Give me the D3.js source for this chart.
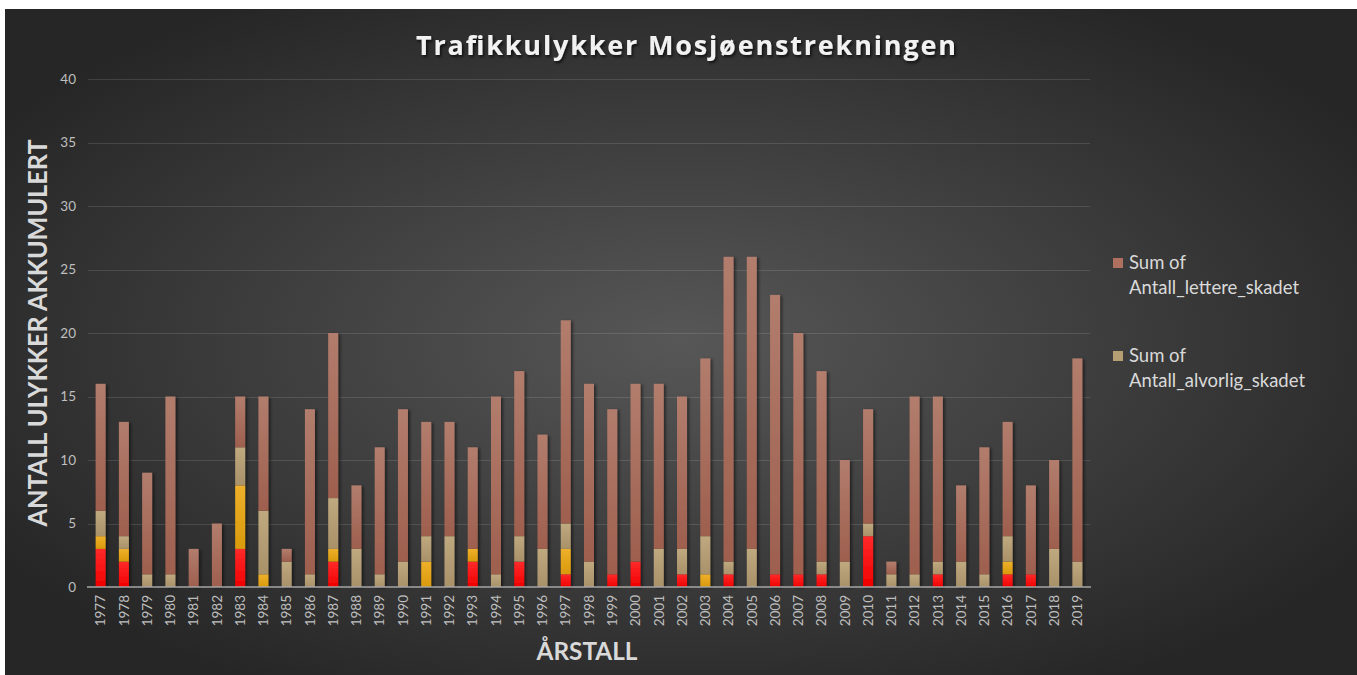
<!DOCTYPE html>
<html>
<head>
<meta charset="utf-8">
<script src="https://cdn.jsdelivr.net/npm/d3@7"></script>
<style>
  html, body { margin: 0; padding: 0; background: #ffffff; }
  svg { display: block; }
</style>
</head>
<body>
<svg id="chart" width="1357" height="675"></svg>
<script>
// ---- data ----
const years = ["1977","1978","1979","1980","1981","1982","1983","1984","1985","1986",
  "1987","1988","1989","1990","1991","1992","1993","1994","1995","1996",
  "1997","1998","1999","2000","2001","2002","2003","2004","2005","2006",
  "2007","2008","2009","2010","2011","2012","2013","2014","2015","2016",
  "2017","2018","2019"];
const drepte = [3,2,0,0,0,0,3,0,0,0, 2,0,0,0,0,0,2,0,2,0, 1,0,1,2,0,1,0,1,0,1, 1,1,0,4,0,0,1,0,0,1, 1,0,0];
const megetAlvorlig = [1,1,0,0,0,0,5,1,0,0, 1,0,0,0,2,0,1,0,0,0, 2,0,0,0,0,0,1,0,0,0, 0,0,0,0,0,0,0,0,0,1, 0,0,0];
const alvorlig = [2,1,1,1,0,0,3,5,2,1, 4,3,1,2,2,4,0,1,2,3, 2,2,0,0,3,2,3,1,3,0, 0,1,2,1,1,1,1,2,1,2, 0,3,2];
const lettere = [10,9,8,14,3,5,4,9,1,13, 13,5,10,12,9,9,8,14,13,9, 16,14,13,14,13,12,14,24,23,22, 19,15,8,9,1,14,13,6,10,9, 7,7,16];
const yTicks = [0,5,10,15,20,25,30,35,40];
const seriesKeys = ["Antall_drepte","Antall_meget_alvorlig_skadet","Antall_alvorlig_skadet","Antall_lettere_skadet"];
const legendKeys = ["Antall_lettere_skadet","Antall_alvorlig_skadet"];
const titleText = "Trafikkulykker Mosjøenstrekningen";
const yTitle = "ANTALL ULYKKER AKKUMULERT";
const xTitle = "ÅRSTALL";

// table for the stack
const table = years.map((y, i) => ({
  year: y,
  Antall_drepte: drepte[i],
  Antall_meget_alvorlig_skadet: megetAlvorlig[i],
  Antall_alvorlig_skadet: alvorlig[i],
  Antall_lettere_skadet: lettere[i]
}));

const colors = {
  Antall_drepte: ["#ff2a2a", "#f00000"],
  Antall_meget_alvorlig_skadet: ["#eeb02a", "#d99a0c"],
  Antall_alvorlig_skadet: ["#bfa97f", "#a99169"],
  Antall_lettere_skadet: ["#b27d6d", "#9e5f4e"]
};
const legendColor = {
  Antall_lettere_skadet: "#b0705f",
  Antall_alvorlig_skadet: "#b59d74"
};

const svg = d3.select("#chart");
const defs = svg.append("defs");

// background gradient
const bg = defs.append("radialGradient").attr("id", "bgGrad")
  .attr("cx", "50%").attr("cy", "50%").attr("r", "60%")
  .attr("gradientUnits", "objectBoundingBox");
bg.append("stop").attr("offset", "0%").attr("stop-color", "#575757");
bg.append("stop").attr("offset", "100%").attr("stop-color", "#262626");

// bar gradients
seriesKeys.forEach(k => {
  const g = defs.append("linearGradient").attr("id", "g_" + k)
    .attr("x1", 0).attr("y1", 0).attr("x2", 0).attr("y2", 1);
  g.append("stop").attr("offset", "0%").attr("stop-color", colors[k][0]);
  g.append("stop").attr("offset", "100%").attr("stop-color", colors[k][1]);
});

// shadows
const sh = defs.append("filter").attr("id", "barShadow")
  .attr("x", "-50%").attr("y", "-10%").attr("width", "200%").attr("height", "120%");
sh.append("feDropShadow").attr("dx", 2).attr("dy", 1).attr("stdDeviation", 1.5)
  .attr("flood-color", "#000").attr("flood-opacity", 0.5);
const tsh = defs.append("filter").attr("id", "textShadow")
  .attr("x", "-10%").attr("y", "-30%").attr("width", "120%").attr("height", "160%");
tsh.append("feDropShadow").attr("dx", 1.5).attr("dy", 2).attr("stdDeviation", 1.5)
  .attr("flood-color", "#000").attr("flood-opacity", 0.7);

svg.append("rect").attr("x", 5).attr("y", 9).attr("width", 1352).attr("height", 666)
  .attr("fill", "url(#bgGrad)");

// scales
const x = d3.scaleBand().domain(years).range([89, 1089])
  .paddingInner(0.57).paddingOuter(0.285);
const y = d3.scaleLinear().domain([0, 40]).range([587, 79]);

// gridlines
svg.append("g").selectAll("line").data(yTicks.filter(t => t > 0)).join("line")
  .attr("x1", 88).attr("x2", 1090)
  .attr("y1", d => Math.round(y(d)) + 0.5).attr("y2", d => Math.round(y(d)) + 0.5)
  .attr("stroke", "#ffffff").attr("stroke-opacity", 0.12).attr("stroke-width", 1);

// y axis
const yAxis = d3.axisLeft(y).tickValues(yTicks).tickSize(0).tickPadding(0);
const yg = svg.append("g").attr("transform", "translate(76,0)").call(yAxis);
yg.select(".domain").remove();
yg.selectAll("text").attr("fill", "#bfbfbf").attr("font-family", "Lato, 'Open Sans', sans-serif")
  .attr("font-size", 13.5);

// stacked bars
const stack = d3.stack().keys(seriesKeys);
const layers = stack(table);
const barG = svg.append("g");
layers.forEach(layer => {
  barG.append("g").selectAll("rect").data(layer.filter(d => d[1] - d[0] > 0)).join("rect")
    .attr("x", d => x(d.data.year))
    .attr("width", x.bandwidth())
    .attr("y", d => y(d[1]))
    .attr("height", d => y(d[0]) - y(d[1]))
    .attr("fill", "url(#g_" + layer.key + ")");
});
barG.attr("filter", "url(#barShadow)");

// x axis baseline and labels
const xAxis = d3.axisBottom(x).tickSize(0).tickPadding(0);
const xg = svg.append("g").attr("transform", "translate(0,587)").call(xAxis);
xg.select(".domain").attr("stroke", "#a6a6a6").attr("stroke-width", 1.5)
  .attr("d", "M-1,0H1003").attr("transform", "translate(88,0)");
xg.selectAll(".tick text")
  .attr("fill", "#bfbfbf").attr("font-family", "Lato, 'Open Sans', sans-serif")
  .attr("font-size", 13.5)
  .attr("text-anchor", "end")
  .attr("transform", "translate(0,8) rotate(-90)")
  .attr("x", 0).attr("y", 0).attr("dy", "0.35em");

// title
svg.append("text").attr("x", 686).attr("y", 55)
  .attr("text-anchor", "middle")
  .attr("font-family", "'Open Sans', sans-serif").attr("font-weight", 700)
  .attr("font-size", 27).attr("fill", "#f2f2f2")
  .attr("textLength", 540).attr("lengthAdjust", "spacing")
  .attr("filter", "url(#textShadow)")
  .text(titleText);

// y title
svg.append("text")
  .attr("transform", "translate(47,333) rotate(-90)")
  .attr("text-anchor", "middle")
  .attr("font-family", "Lato, sans-serif").attr("font-weight", 700)
  .attr("font-size", 26).attr("fill", "#d9d9d9")
  .attr("textLength", 387).attr("lengthAdjust", "spacingAndGlyphs")
  .text(yTitle);

// x title
svg.append("text").attr("x", 587).attr("y", 660)
  .attr("text-anchor", "middle")
  .attr("font-family", "Lato, sans-serif").attr("font-weight", 700)
  .attr("font-size", 24).attr("fill", "#d9d9d9")
  .attr("textLength", 101).attr("lengthAdjust", "spacingAndGlyphs")
  .text(xTitle);

// legend
const lg = svg.append("g").selectAll("g").data(legendKeys).join("g")
  .attr("transform", (d, i) => `translate(1113,${258 + i * 93})`);
lg.append("rect").attr("width", 10).attr("height", 10).attr("fill", d => legendColor[d]);
const lt = lg.append("text").attr("x", 16).attr("y", 11)
  .attr("font-family", "Lato, sans-serif").attr("font-size", 18.5).attr("fill", "#d9d9d9");
lt.append("tspan").attr("x", 16).text("Sum of");
lt.append("tspan").attr("x", 16).attr("dy", 24.5).text(d => d);
</script>
</body>
</html>
